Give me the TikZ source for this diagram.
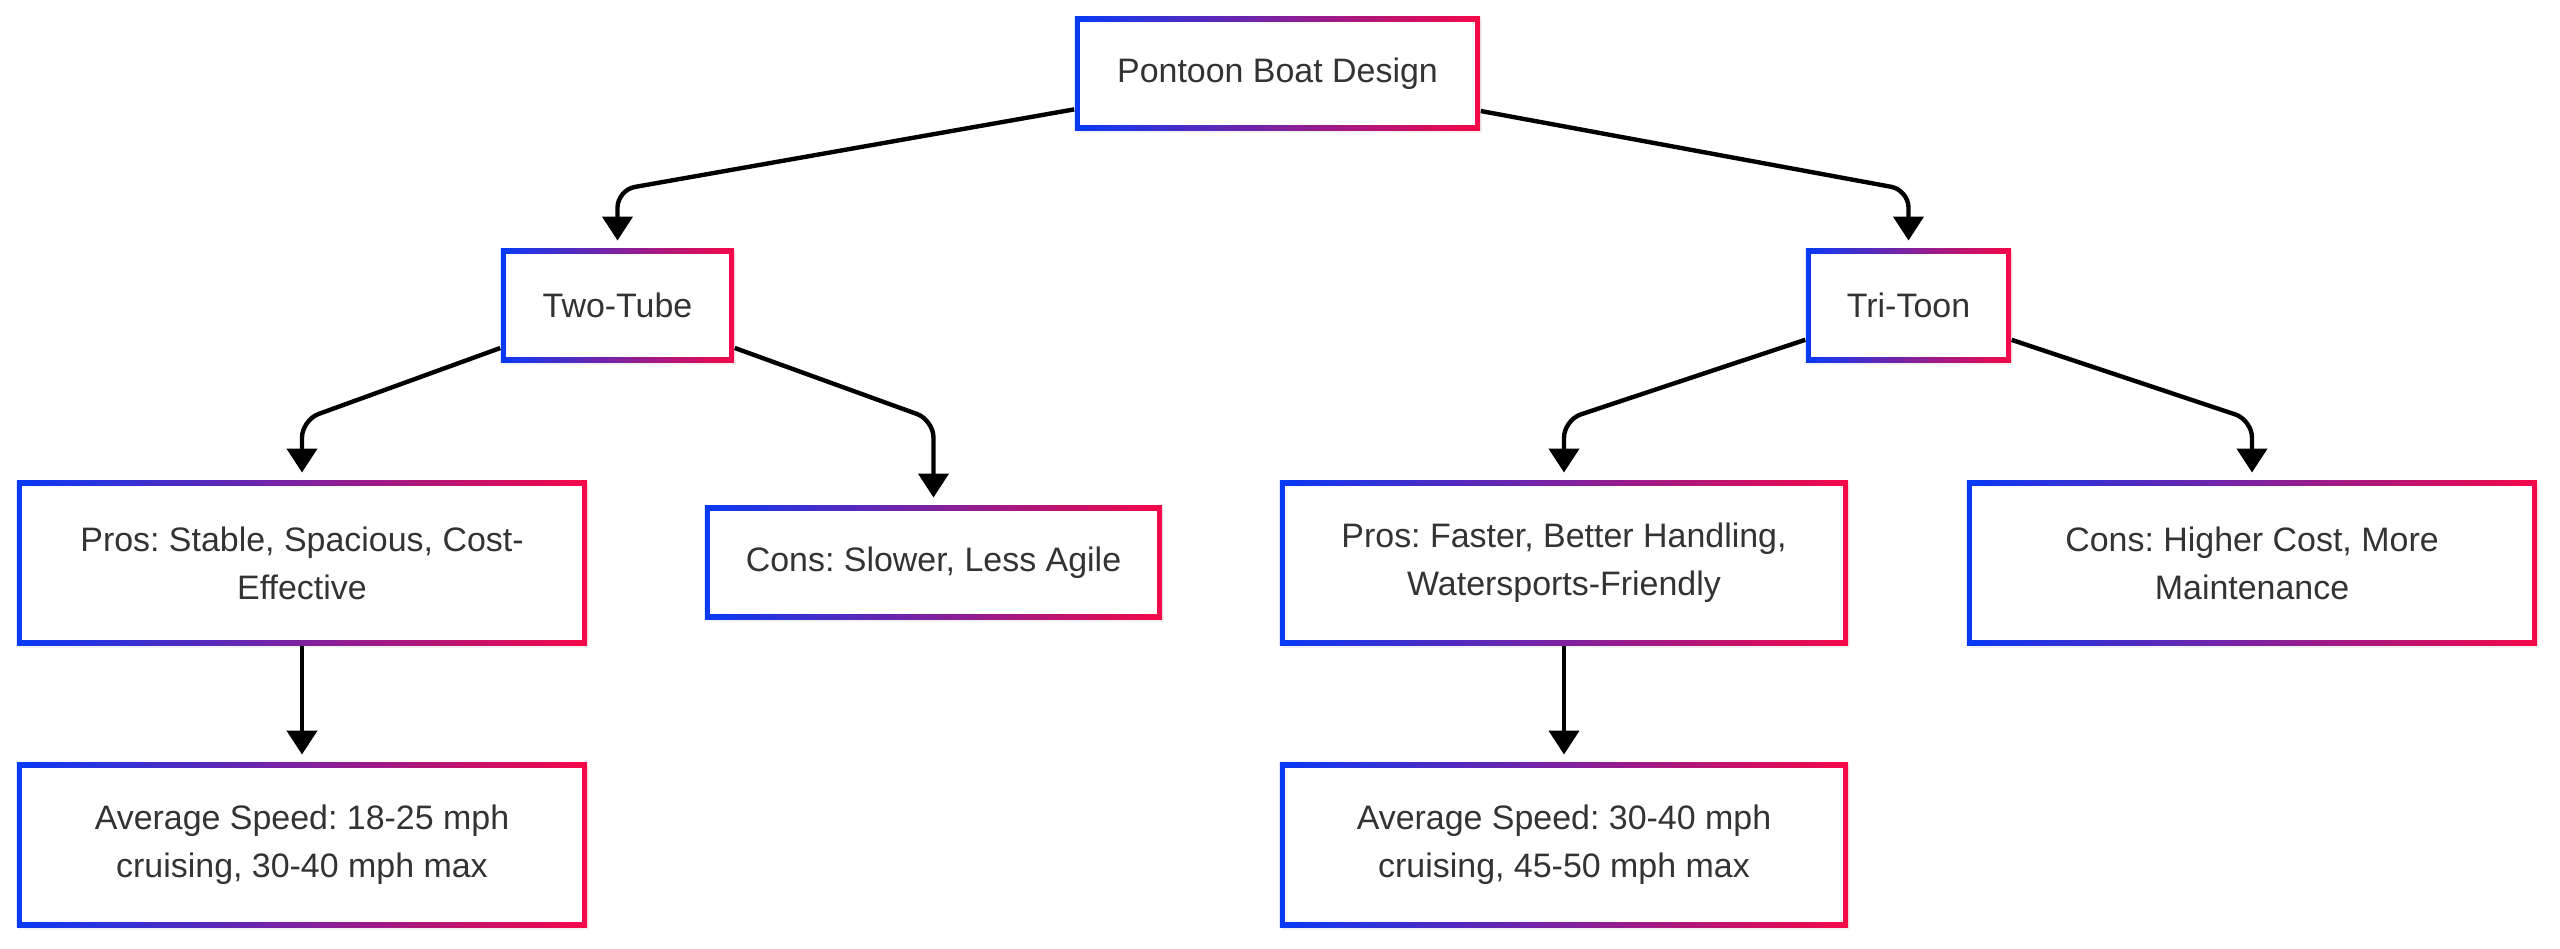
\documentclass[tikz,border=0pt]{standalone}
\usepackage{fontspec}
\setmainfont{Liberation Sans}
\usetikzlibrary{arrows.meta,shadows}
\definecolor{edgeblue}{RGB}{8,58,245}
\definecolor{edgered}{RGB}{245,8,72}
\definecolor{txtgray}{RGB}{51,51,51}
\frenchspacing
\tikzset{
  box/.style={rectangle,inner sep=0pt,align=center,text=txtgray,
    font=\fontsize{9.65pt}{13.7pt}\selectfont,
    left color=edgeblue,right color=edgered,minimum height=1.13cm,
    drop shadow={opacity=0.1,shadow xshift=0.6pt,shadow yshift=-0.9pt},
    path picture={\fill[white] ([shift={(1.4pt,1.4pt)}]path picture bounding box.south west)
      rectangle ([shift={(-1.4pt,-1.4pt)}]path picture bounding box.north east);}},
  tall/.style={minimum height=1.64cm},
  link/.style={-{Triangle[length=6.8pt,width=8.5pt]},line width=1.25pt,
    rounded corners=5pt,shorten >=2.2pt}
}
\begin{document}
\begin{tikzpicture}[x=0.01cm,y=-0.01cm]
    \useasboundingbox (0,0) rectangle (2560,948);
    \node at (1277.5,73.5) [box,minimum width=4.05cm] (root) {Pontoon Boat Design};
    \node at (617.5,305.5) [box,minimum width=2.33cm] (tube) {Two-Tube};
    \node at (1908.5,305.5) [box,minimum width=2.05cm] (toon) {Tri-Toon};
    \node at (302,563) [box,tall,minimum width=5.7cm] (prosA) {Pros: Stable, Spacious, Cost-\\Effective};
    \node at (933.5,562.5) [box,minimum width=4.57cm] (consA) {Cons: Slower, Less Agile};
    \node at (1564,563) [box,tall,minimum width=5.68cm] (prosB) {Pros: Faster, Better Handling,\\Watersports-Friendly};
    \node at (2252,563) [box,tall,minimum width=5.7cm] (consB) {Cons: Higher Cost, More\\Maintenance};
    \node at (302,845) [box,tall,minimum width=5.7cm] (speedA) {Average Speed: 18-25 mph\\cruising, 30-40 mph max};
    \node at (1564,845) [box,tall,minimum width=5.68cm] (speedB) {Average Speed: 30-40 mph\\cruising, 45-50 mph max};
    \coordinate (bendA) at (0,190);
    \coordinate (bendB) at (0,420);
    \draw[link] (root) -- (tube |- bendA) -- (tube);
    \draw[link] (root) -- (toon |- bendA) -- (toon);
    \draw[link] (tube) -- (prosA |- bendB) -- (prosA);
    \draw[link] (tube) -- (consA |- bendB) -- (consA);
    \draw[link] (toon) -- (prosB |- bendB) -- (prosB);
    \draw[link] (toon) -- (consB |- bendB) -- (consB);
    \draw[link] (prosA) -- (speedA);
    \draw[link] (prosB) -- (speedB);
\end{tikzpicture}
\end{document}
